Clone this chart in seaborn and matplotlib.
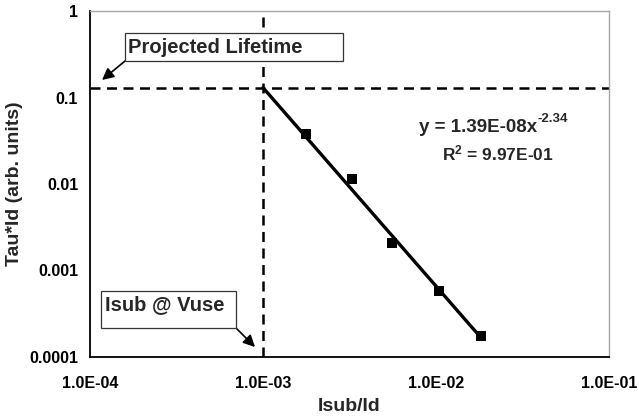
import matplotlib
matplotlib.use("Agg")
import matplotlib.pyplot as plt
import matplotlib.ticker as mticker
from matplotlib.patches import Rectangle, FancyArrowPatch
import seaborn as sns
import pandas as pd
import numpy as np

# data
isub_id = [1.77e-3, 3.26e-3, 5.55e-3, 1.04e-2, 1.82e-2]
tau_id = [3.78e-2, 1.14e-2, 2.06e-3, 5.84e-4, 1.73e-4]
trend_x = [1.0e-3, 1.82e-2]
trend_y = [0.13, 1.67e-4]
vuse_isub = 1.0e-3
projected_tau = 0.13
x_ticks = [1e-4, 1e-3, 1e-2, 1e-1]
x_tick_labels = ["1.0E-04", "1.0E-03", "1.0E-02", "1.0E-01"]
y_ticks = [1e-4, 1e-3, 1e-2, 1e-1, 1]
y_tick_labels = ["0.0001", "0.001", "0.01", "0.1", "1"]

sns.set_style("white")
plt.rcParams['font.family'] = ['Liberation Sans', 'DejaVu Sans']
plt.rcParams['font.weight'] = 'bold'
plt.rcParams['mathtext.fontset'] = 'custom'
plt.rcParams['mathtext.rm'] = 'Liberation Sans:bold'
plt.rcParams['mathtext.it'] = 'Liberation Sans:bold'
plt.rcParams['mathtext.bf'] = 'Liberation Sans:bold'

W, H = 639, 417
fig = plt.figure(figsize=(W / 100, H / 100), dpi=100)
ax = fig.add_axes([90 / W, 1 - 357 / H, (609 - 90) / W, (357 - 11) / H])

df = pd.DataFrame({"x": isub_id, "y": tau_id})
tr = pd.DataFrame({"x": trend_x, "y": trend_y})

ax.set_xscale("log")
ax.set_yscale("log")

sns.lineplot(data=tr, x="x", y="y", ax=ax, color="black", lw=2.4, zorder=3)
sns.scatterplot(data=df, x="x", y="y", ax=ax, marker="s", s=44, color="black",
                edgecolor="black", linewidth=0, zorder=4)

ax.axvline(vuse_isub, color="black", lw=1.8, ls=(0, (4, 2.6)), zorder=2)
ax.axhline(projected_tau, color="black", lw=1.8, ls=(0, (4, 2.6)), zorder=2)

ax.set_xlim(1e-4, 1e-1)
ax.set_ylim(1e-4, 1)
ax.set_xticks(x_ticks, x_tick_labels, fontweight="bold", fontsize=11.5)
ax.set_yticks(y_ticks, y_tick_labels, fontweight="bold", fontsize=11.5)
ax.xaxis.set_minor_locator(mticker.LogLocator(base=10, subs=np.arange(2, 10)))
ax.yaxis.set_minor_locator(mticker.LogLocator(base=10, subs=np.arange(2, 10)))
ax.xaxis.set_minor_formatter(mticker.NullFormatter())
ax.yaxis.set_minor_formatter(mticker.NullFormatter())
ax.set_xlim(1e-4, 1e-1)
ax.set_ylim(1e-4, 1)

ax.tick_params(axis="both", which="major", direction="inout", length=9, width=1.2,
               colors="black", pad=4)
ax.tick_params(axis="both", which="minor", direction="in", length=4, width=0.9,
               colors="#333333")
ax.tick_params(axis="x", which="major", pad=9)

for s in ["left", "bottom"]:
    ax.spines[s].set_color("black")
    ax.spines[s].set_linewidth(1.3)
for s in ["top", "right"]:
    ax.spines[s].set_color("#a6a6a6")
    ax.spines[s].set_linewidth(1.0)

ax.set_xlabel("Isub/Id", fontsize=14, fontweight="bold", labelpad=5)
ax.set_ylabel("Tau*Id (arb. units)", fontsize=14, fontweight="bold", va="center")
ax.yaxis.set_label_coords((15 - 90) / (609 - 90), 0.5)


def fx(px):
    return px / W


def fy(py):
    return 1 - py / H


# annotation boxes
fig.patches.append(Rectangle((fx(125), fy(61)), fx(343) - fx(125), fy(33) - fy(61),
                             transform=fig.transFigure, fill=True, facecolor="white",
                             edgecolor="#333333", lw=0.9, zorder=5))
fig.text(fx(128), fy(47.5), "Projected Lifetime", fontsize=14.5, fontweight="bold",
         ha="left", va="center", zorder=6)
fig.patches.append(Rectangle((fx(101), fy(328)), fx(236) - fx(101), fy(291) - fy(328),
                             transform=fig.transFigure, fill=True, facecolor="white",
                             edgecolor="#333333", lw=0.9, zorder=5))
fig.text(fx(105), fy(305), "Isub @ Vuse", fontsize=14.5, fontweight="bold",
         ha="left", va="center", zorder=6)

for start, end in [((125, 61), (102, 80)), ((236, 328), (255, 347))]:
    fig.add_artist(FancyArrowPatch(
        (fx(start[0]), fy(start[1])), (fx(end[0]), fy(end[1])),
        transform=fig.transFigure,
        arrowstyle="-|>,head_length=7,head_width=3.5", color="black", lw=1.2,
        shrinkA=0, shrinkB=0, mutation_scale=1))

fig.text(fx(537), fy(127), "y = 1.39E-08x", fontsize=13.5, fontweight="bold",
         ha="right", va="center")
fig.text(fx(537), fy(118.5), "-2.34", fontsize=9.5, fontweight="bold",
         ha="left", va="center")
fig.text(fx(498), fy(153), "R$^{2}$ = 9.97E-01", fontsize=12.5, fontweight="bold",
         ha="center", va="center")

fig.savefig("out.png", dpi=100)
